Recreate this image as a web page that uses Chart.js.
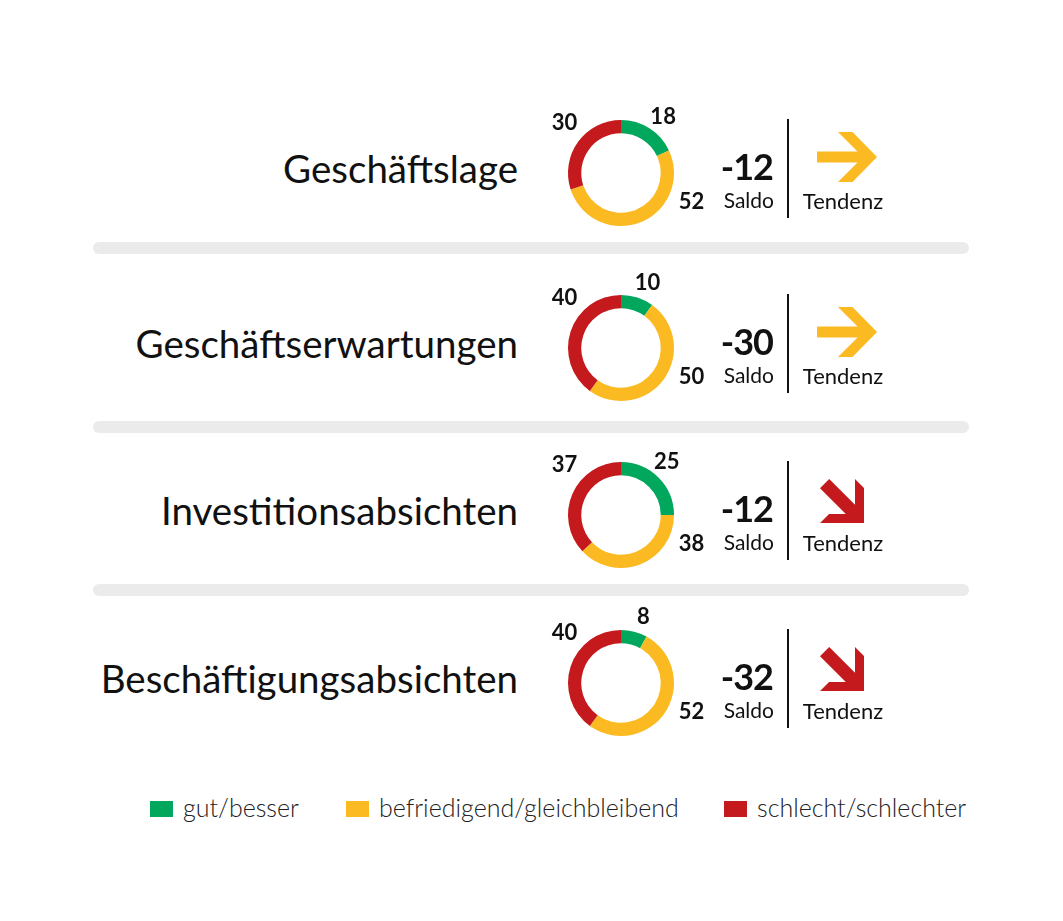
<!DOCTYPE html>
<html>
<head>
<meta charset="utf-8">
<script src="https://cdn.jsdelivr.net/npm/chart.js@4.4.1/dist/chart.umd.min.js"></script>
<style>
  html, body { margin: 0; padding: 0; background: #fff; }
  #page { position: relative; width: 1063px; height: 921px; overflow: hidden;
          font-family: Lato, "Open Sans", sans-serif; color: #111; }
  .txt { position: absolute; white-space: nowrap; line-height: 0.8; }
  .sep { position: absolute; left: 93px; width: 876px; height: 12px; border-radius: 6px; background: #ebebeb; }
  .vline { position: absolute; width: 2px; background: #111; }
  canvas { position: absolute; }
</style>
</head>
<body>
<div id="page"></div>
<script>
// data
const categories = ['Geschäftslage', 'Geschäftserwartungen', 'Investitionsabsichten', 'Beschäftigungsabsichten'];
const gut = [18, 10, 25, 8];
const befriedigend = [52, 50, 38, 52];
const schlecht = [30, 40, 37, 40];
const saldo = [-12, -30, -12, -32];
const tendenz = ['gleich', 'gleich', 'fallend', 'fallend'];
const legendLabels = ['gut/besser', 'befriedigend/gleichbleibend', 'schlecht/schlechter'];

const colors = ['#00a75d', '#fbba22', '#c41a1d'];

// layout
const page = document.getElementById('page');
const rowY = [173, 348, 515, 683];
const sepY = [248, 427, 590];
const ringX = 621;

// line-height 0.8 with Lato puts the baseline 0.787em below the box top
function addText(text, x, baseline, size, weight, align) {
  const d = document.createElement('div');
  d.className = 'txt';
  d.textContent = text;
  d.style.fontSize = size + 'px';
  d.style.fontWeight = weight;
  d.style.top = (baseline - size * 0.787) + 'px';
  if (align === 'right') d.style.right = (1063 - x) + 'px';
  else if (align === 'center') { d.style.left = x + 'px'; d.style.transform = 'translateX(-50%)'; }
  else d.style.left = x + 'px';
  page.appendChild(d);
  return d;
}

function addArrow(kind, cx, cy) {
  const ns = 'http://www.w3.org/2000/svg';
  const svg = document.createElementNS(ns, 'svg');
  const poly = document.createElementNS(ns, 'polygon');
  let w, h;
  if (kind === 'gleich') {
    w = 60; h = 50;
    poly.setAttribute('points', '0,19.5 40.5,19.5 21,0 35.5,0 60,25 35.5,50 21,50 40.5,30.5 0,30.5');
    poly.setAttribute('fill', colors[1]);
  } else {
    w = 44; h = 44;
    poly.setAttribute('points', '9.2,0 35,25.8 35,0 44,9 44,44 0,44 9,35 25.8,35 0,9.2');
    poly.setAttribute('fill', colors[2]);
  }
  svg.setAttribute('width', w);
  svg.setAttribute('height', h);
  svg.setAttribute('viewBox', '0 0 ' + w + ' ' + h);
  svg.style.position = 'absolute';
  svg.style.left = (cx - w / 2) + 'px';
  svg.style.top = (cy - h / 2) + 'px';
  svg.appendChild(poly);
  page.appendChild(svg);
}

// numbers round the ring
const valueLabels = {
  id: 'valueLabels',
  afterDatasetsDraw(chart) {
    const ctx = chart.ctx;
    const ds = chart.data.datasets[0];
    const meta = chart.getDatasetMeta(0);
    ctx.save();
    ctx.font = 'bold 22px Lato, sans-serif';
    ctx.fillStyle = '#111';
    ctx.textAlign = 'center';
    ctx.textBaseline = 'alphabetic';
    meta.data.forEach((arc, j) => {
      const p = arc.getProps(['x', 'y', 'startAngle', 'endAngle', 'outerRadius'], true);
      const mid = ((p.startAngle + p.endAngle) / 2 + Math.PI / 2) * 180 / Math.PI;
      let deg, dist;
      if (j === 0) { deg = Math.min(mid + 4, 40); dist = p.outerRadius + 18; }
      else if (j === 1) { deg = 112; dist = p.outerRadius + 23; }
      else { deg = -48; dist = p.outerRadius + 23; }
      const rad = deg * Math.PI / 180;
      const tx = p.x + Math.sin(rad) * dist;
      const ty = p.y - Math.cos(rad) * dist;
      ctx.fillText(String(ds.data[j]), tx, ty + 8);
    });
    ctx.restore();
  }
};

sepY.forEach(y => {
  const s = document.createElement('div');
  s.className = 'sep';
  s.style.top = (y - 6) + 'px';
  page.appendChild(s);
});

categories.forEach((cat, i) => {
  const cy = rowY[i];
  addText(cat, 518, cy + 10, 38.5, 400, 'right');

  const canvas = document.createElement('canvas');
  canvas.width = 200;
  canvas.height = 200;
  canvas.style.left = (ringX - 100) + 'px';
  canvas.style.top = (cy - 100) + 'px';
  page.appendChild(canvas);

  new Chart(canvas, {
    type: 'doughnut',
    data: {
      labels: legendLabels,
      datasets: [{
        data: [gut[i], befriedigend[i], schlecht[i]],
        backgroundColor: colors,
        borderWidth: 0
      }]
    },
    options: {
      responsive: false,
      animation: false,
      cutout: '75%',
      layout: { padding: 47 },
      plugins: { legend: { display: false }, tooltip: { enabled: false } }
    },
    plugins: [valueLabels]
  });

  const s = addText(String(saldo[i]), 773, cy + 7, 36, 700, 'right');
  s.style.letterSpacing = '-1px';
  addText('Saldo', 774, cy + 36, 21, 400, 'right');

  const v = document.createElement('div');
  v.className = 'vline';
  v.style.left = '787px';
  v.style.top = (cy - 54) + 'px';
  v.style.height = '99px';
  page.appendChild(v);

  if (tendenz[i] === 'gleich') addArrow('gleich', 847, cy - 16);
  else addArrow('fallend', 842, cy - 14);
  addText('Tendenz', 843, cy + 36, 22, 400, 'center');
});

// legend
const legendX = [150, 346, 724];
legendLabels.forEach((lab, k) => {
  const sq = document.createElement('div');
  sq.style.position = 'absolute';
  sq.style.left = legendX[k] + 'px';
  sq.style.top = '801px';
  sq.style.width = '23px';
  sq.style.height = '16px';
  sq.style.background = colors[k];
  page.appendChild(sq);
  const t = addText(lab, legendX[k] + 33, 817, 25, 300, 'left');
  t.style.color = '#222';
});
</script>
</body>
</html>
